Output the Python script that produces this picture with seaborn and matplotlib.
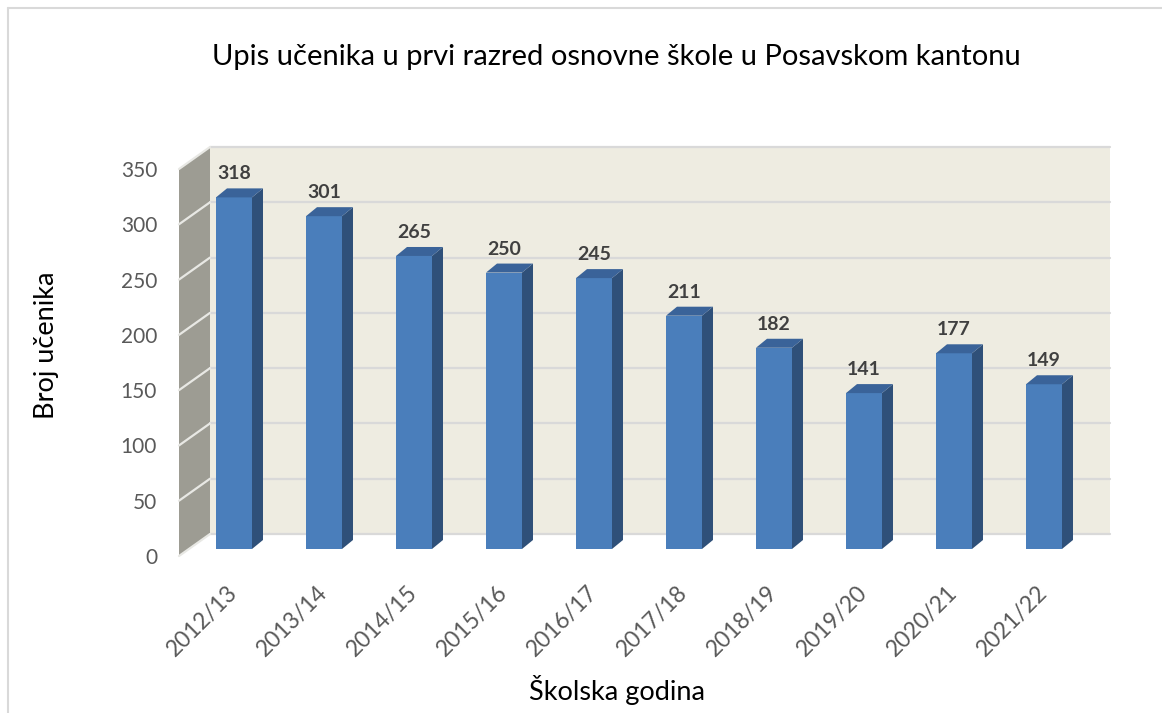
import matplotlib
matplotlib.use('Agg')
import matplotlib.pyplot as plt
from matplotlib.patches import Polygon, Rectangle
from matplotlib.lines import Line2D
import matplotlib.transforms as mtransforms
import numpy as np
import pandas as pd
import seaborn as sns

# data
years = ['2012/13', '2013/14', '2014/15', '2015/16', '2016/17',
         '2017/18', '2018/19', '2019/20', '2020/21', '2021/22']
students = [318, 301, 265, 250, 245, 211, 182, 141, 177, 149]
y_ticks = [0, 50, 100, 150, 200, 250, 300, 350]

df = pd.DataFrame({'Školska godina': years, 'Broj učenika': students})

sns.set_style('white')
plt.rcParams['font.family'] = ['Lato', 'DejaVu Sans']

fig = plt.figure(figsize=(11.62, 7.13), dpi=100)
# axes = front plane of the bars
ax = fig.add_axes([189/1162, (713-549)/713, 900/1162, 387/713])
ax.set_xlim(-0.5, 9.5)
ax.set_ylim(0, 350)
ax.patch.set_visible(False)
for s in ax.spines.values():
    s.set_visible(False)

# pixel -> data unit helpers
px_x = 900 / 10.0
px_y = 387 / 350.0
back_dx, back_dy = 21 / px_x, 15 / px_y      # back wall offset
front_dx, front_dy = -10 / px_x, -7 / px_y   # front edge of side wall
bar_dx, bar_dy = 11 / px_x, 9 / px_y         # bar depth

x0, x1 = -0.5, 9.5
top = y_ticks[-1]

# back wall
ax.add_patch(Rectangle((x0 + back_dx, back_dy), x1 - x0, top, facecolor='#EEECE1',
                       edgecolor='none', zorder=0, clip_on=False))
# left wall
ax.add_patch(Polygon([(x0 + front_dx, front_dy), (x0 + back_dx, back_dy),
                      (x0 + back_dx, top + back_dy), (x0 + front_dx, top + front_dy)],
                     closed=True, facecolor='#9D9C93', edgecolor='none', zorder=0.5,
                     clip_on=False))
for t in y_ticks:
    ax.add_line(Line2D([x0 + back_dx, x1 + back_dx], [t + back_dy, t + back_dy],
                       color='#D9D9D9', lw=1.6, zorder=0.6, clip_on=False))
    ax.add_line(Line2D([x0 + front_dx, x0 + back_dx], [t + front_dy, t + back_dy],
                       color='#E8E8E4', lw=1.6, zorder=0.6, clip_on=False))

# bars
sns.barplot(data=df, x='Školska godina', y='Broj učenika', color='#4A7EBB',
            saturation=1, width=0.4, ax=ax, zorder=2, linewidth=0)

for p in ax.containers[0]:
    bx, bw, bh = p.get_x(), p.get_width(), p.get_height()
    ax.add_patch(Polygon([(bx + bw, 0), (bx + bw + bar_dx, bar_dy),
                          (bx + bw + bar_dx, bh + bar_dy), (bx + bw, bh)],
                         closed=True, facecolor='#2F5079', edgecolor='none',
                         zorder=2, clip_on=False))
    ax.add_patch(Polygon([(bx, bh), (bx + bw, bh), (bx + bw + bar_dx, bh + bar_dy),
                          (bx + bar_dx, bh + bar_dy)],
                         closed=True, facecolor='#3A6399', edgecolor='none',
                         zorder=2, clip_on=False))
    ax.annotate(f'{int(round(bh))}', (bx + bw / 2, bh), xytext=(0, 13),
                textcoords='offset points', ha='center', va='baseline',
                fontsize=14, fontweight='bold', color='#404040')

# ticks
ax.set_yticks(y_ticks)
ax.tick_params(axis='y', length=0, pad=23, labelsize=15, labelcolor='#595959')
shift = mtransforms.ScaledTranslation(0, -7 / 100, fig.dpi_scale_trans)
for lab in ax.get_yticklabels():
    lab.set_transform(lab.get_transform() + shift)
ax.tick_params(axis='x', length=0, pad=29, labelsize=16.5, labelcolor='#595959')
plt.setp(ax.get_xticklabels(), rotation=45, ha='right', va='center',
         rotation_mode='anchor')

ax.set_xlabel('')
ax.set_ylabel('')
fig.text(617/1162, 1 - 690/713, 'Školska godina', ha='center', va='center',
         fontsize=19.5, color='black')
fig.text(47/1162, 1 - 345/713, 'Broj učenika', ha='center', va='center',
         rotation=90, fontsize=19.5, color='black')
fig.text(616/1162, 1 - 57/713,
         'Upis učenika u prvi razred osnovne škole u Posavskom kantonu',
         ha='center', va='center', fontsize=21, color='black')

# chart frame
fig.add_artist(Line2D([8/1162, 1], [1 - 8/713, 1 - 8/713], color='#D9D9D9', lw=1.5,
                      transform=fig.transFigure))
fig.add_artist(Line2D([8/1162, 8/1162], [0, 1 - 8/713], color='#D9D9D9', lw=1.5,
                      transform=fig.transFigure))

fig.savefig('out.png', dpi=100)
